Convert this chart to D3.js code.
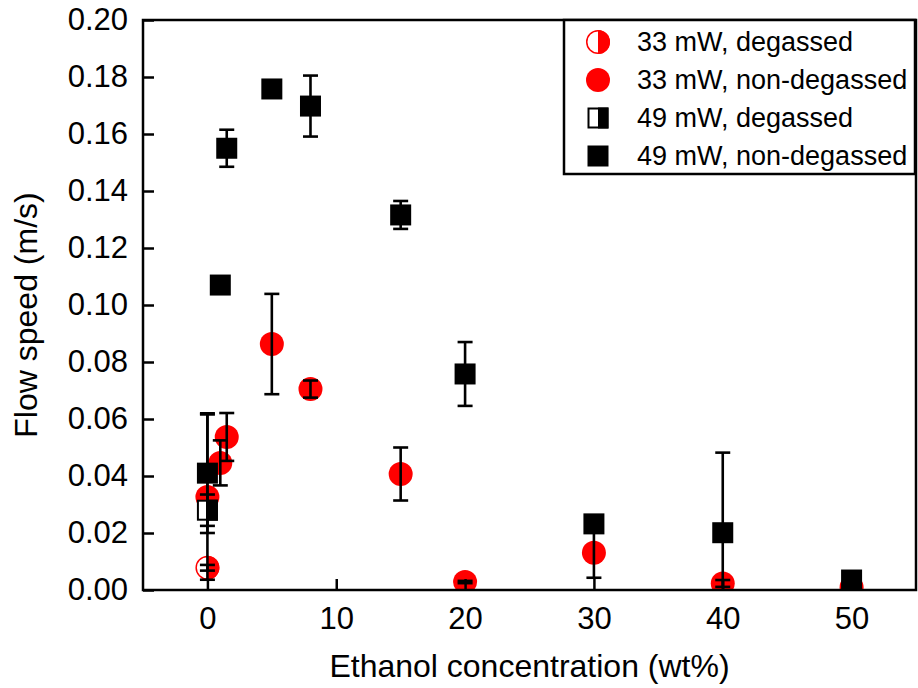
<!DOCTYPE html>
<html>
<head>
<meta charset="utf-8">
<script src="https://cdn.jsdelivr.net/npm/d3@7"></script>
<style>
  body { margin: 0; background: #fff; }
  svg { display: block; font-family: "Liberation Sans", Arial, sans-serif; }
</style>
</head>
<body>
<div id="chart"></div>
<script>
"use strict";

// ethanol concentration (wt%) for the non-degassed runs
const concentrations = [0, 1, 1.5, 5, 8, 15, 20, 30, 40, 50];

// 33 mW
const speeds33Degassed = [0.0078];
const errors33Degassed = [0.001];
const speeds33NonDegassed = [0.0326, 0.0446, 0.0537, 0.0863, 0.0705, 0.0407, 0.0028, 0.0131, 0.0023, 0.001];
const errors33NonDegassed = [0.029, 0.0079, 0.0084, 0.0176, 0.003, 0.0093, 0.0004, 0.0088, 0.0012, 0.0003];

// 49 mW
const speeds49Degassed = [0.028];
const errors49Degassed = [0.0055];
const speeds49NonDegassed = [0.041, 0.107, 0.155, 0.1758, 0.1698, 0.1316, 0.0758, 0.0232, 0.0201, 0.0035];
const errors49NonDegassed = [0.021, 0.0008, 0.0065, 0.0008, 0.0107, 0.0049, 0.0112, 0.0008, 0.0281, 0.0005];

const degassedConcentrations = [0];

const xTicks = [0, 10, 20, 30, 40, 50];
const yTicks = [0, 0.02, 0.04, 0.06, 0.08, 0.1, 0.12, 0.14, 0.16, 0.18, 0.2];

const legendLabels = ["33 mW, degassed", "33 mW, non-degassed", "49 mW, degassed", "49 mW, non-degassed"];

const width = 918;
const height = 688;
const margin = { top: 20, right: 2, bottom: 98, left: 143 };
const innerW = width - margin.left - margin.right;
const innerH = height - margin.top - margin.bottom;

const svg = d3.select("#chart").append("svg")
  .attr("width", width)
  .attr("height", height);

const g = svg.append("g")
  .attr("transform", `translate(${margin.left},${margin.top})`);

const x = d3.scaleLinear().domain([-5, 55]).range([0, innerW]);
const y = d3.scaleLinear().domain([0, 0.2]).range([innerH, 0]);

svg.append("defs").append("clipPath").attr("id", "plotClip")
  .append("rect").attr("width", innerW).attr("height", innerH);

///////////////////////////////////
// series table
///////////////////////////////////

const makeRows = (xs, ys, es) => xs.map((c, i) => ({ x: c, y: ys[i], e: es[i] }));

const series = [
  { name: legendLabels[0], shape: "circle", half: true, color: "#ff0000", rows: makeRows(degassedConcentrations, speeds33Degassed, errors33Degassed) },
  { name: legendLabels[1], shape: "circle", half: false, color: "#ff0000", rows: makeRows(concentrations, speeds33NonDegassed, errors33NonDegassed) },
  { name: legendLabels[2], shape: "square", half: true, color: "#000000", rows: makeRows(degassedConcentrations, speeds49Degassed, errors49Degassed) },
  { name: legendLabels[3], shape: "square", half: false, color: "#000000", rows: makeRows(concentrations, speeds49NonDegassed, errors49NonDegassed) },
];

const R = 12;     // circle radius
const S = 21;     // square side

// draws one marker into a selection placed at (0,0)
const drawMarker = (sel, s) => {
  if (s.shape === "circle") {
    if (s.half) {
      sel.append("circle").attr("r", R - 0.75).attr("fill", "#fff")
        .attr("stroke", s.color).attr("stroke-width", 1.5);
      sel.append("path")
        .attr("d", `M0,${-R} A${R},${R} 0 0 1 0,${R} Z`)
        .attr("fill", s.color);
    } else {
      sel.append("circle").attr("r", R).attr("fill", s.color);
    }
  } else {
    if (s.half) {
      sel.append("rect").attr("x", -S / 2 + 1).attr("y", -S / 2 + 1)
        .attr("width", S - 2).attr("height", S - 2)
        .attr("fill", "#fff").attr("stroke", s.color).attr("stroke-width", 2);
      sel.append("rect").attr("x", 0).attr("y", -S / 2)
        .attr("width", S / 2).attr("height", S).attr("fill", s.color);
    } else {
      sel.append("rect").attr("x", -S / 2).attr("y", -S / 2)
        .attr("width", S).attr("height", S).attr("fill", s.color);
    }
  }
};

///////////////////////////////////
// markers
///////////////////////////////////

const plot = g.append("g").attr("clip-path", "url(#plotClip)");

series.forEach((s) => {
  plot.append("g").selectAll("g")
    .data(s.rows)
    .enter()
    .append("g")
    .attr("transform", (d) => `translate(${x(d.x)},${y(d.y)})`)
    .each(function () { drawMarker(d3.select(this), s); });
});

///////////////////////////////////
// error bars (on top of markers)
///////////////////////////////////

const cap = 7.5;
series.forEach((s) => {
  const eb = plot.append("g").attr("stroke", "#000").attr("stroke-width", 2.6).attr("fill", "none");
  s.rows.forEach((d) => {
    const cx = x(d.x);
    const y1 = y(d.y + d.e);
    const y0 = y(d.y - d.e);
    eb.append("line").attr("x1", cx).attr("x2", cx).attr("y1", y1).attr("y2", y0);
    eb.append("line").attr("x1", cx - cap).attr("x2", cx + cap).attr("y1", y1).attr("y2", y1);
    eb.append("line").attr("x1", cx - cap).attr("x2", cx + cap).attr("y1", y0).attr("y2", y0);
  });
});

///////////////////////////////////
// axes
///////////////////////////////////

const tickFont = 31;

const xAxis = g.append("g")
  .attr("transform", `translate(0,${innerH})`)
  .call(d3.axisBottom(x).tickValues(xTicks).tickSizeInner(-11).tickSizeOuter(0).tickPadding(17));

const yAxis = g.append("g")
  .call(d3.axisLeft(y).tickValues(yTicks).tickSizeInner(-11).tickSizeOuter(0).tickPadding(15)
    .tickFormat(d3.format(".2f")));

[xAxis, yAxis].forEach((a) => {
  a.select(".domain").remove();
  a.attr("font-family", null).attr("font-size", tickFont);
  a.selectAll(".tick line").attr("stroke", "#000").attr("stroke-width", 2.5);
  a.selectAll(".tick text").attr("fill", "#000");
});

// frame
g.append("rect")
  .attr("width", innerW).attr("height", innerH)
  .attr("fill", "none").attr("stroke", "#000").attr("stroke-width", 2.5);

// axis titles
svg.append("text")
  .attr("x", margin.left + innerW / 2)
  .attr("y", 677)
  .attr("text-anchor", "middle")
  .attr("font-size", 32)
  .text("Ethanol concentration (wt%)");

svg.append("text")
  .attr("transform", `translate(37,${margin.top + innerH / 2 + 10}) rotate(-90)`)
  .attr("text-anchor", "middle")
  .attr("font-size", 32)
  .text("Flow speed (m/s)");

///////////////////////////////////
// legend
///////////////////////////////////

const legend = g.append("g").attr("transform", `translate(${564 - margin.left},0)`);
legend.append("rect")
  .attr("width", 351).attr("height", 154)
  .attr("fill", "#fff").attr("stroke", "#000").attr("stroke-width", 2.5);

series.forEach((s, i) => {
  const row = legend.append("g").attr("transform", `translate(0,${22 + i * 38})`);
  const m = row.append("g").attr("transform", "translate(34,0)");
  drawMarker(m, s);
  row.append("text")
    .attr("x", 73)
    .attr("dy", "0.35em")
    .attr("font-size", 27)
    .text(s.name);
});
</script>
</body>
</html>
